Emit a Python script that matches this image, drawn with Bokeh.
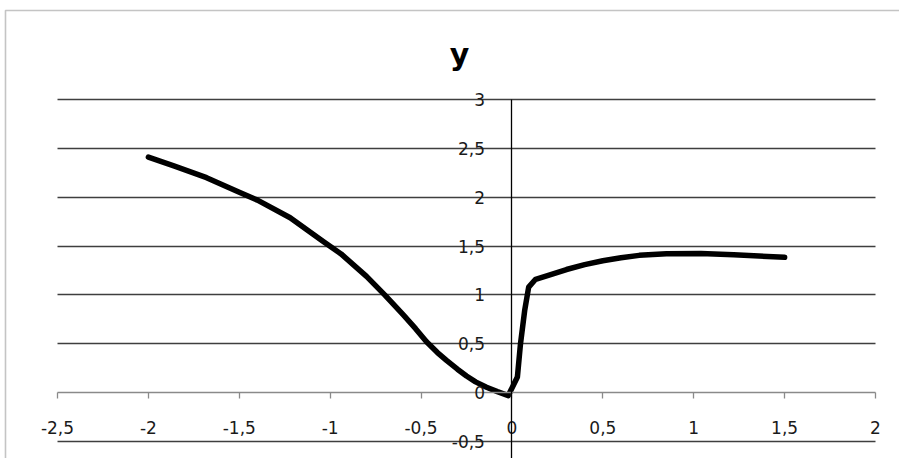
from bokeh.plotting import figure
from bokeh.models import Range1d, LinearAxis, FixedTicker, Grid, BoxAnnotation, Label
from bokeh.embed import file_html
from bokeh.resources import INLINE

# ---- data ----
x_vals = [-2.0, -1.86, -1.68, -1.5, -1.4, -1.22, -1.04, -0.94, -0.8, -0.7,
          -0.6, -0.53, -0.47, -0.41, -0.36, -0.3, -0.25, -0.2, -0.14, -0.08,
          -0.02, 0.03, 0.047, 0.07, 0.092, 0.13, 0.2, 0.3, 0.4, 0.5, 0.6,
          0.7, 0.85, 1.04, 1.22, 1.5]
y_vals = [2.41, 2.32, 2.20, 2.05, 1.97, 1.79, 1.55, 1.42, 1.19, 1.00,
          0.80, 0.655, 0.52, 0.41, 0.33, 0.24, 0.17, 0.11, 0.055, 0.01,
          -0.03, 0.16, 0.5, 0.84, 1.08, 1.16, 1.2, 1.26, 1.31, 1.35, 1.38,
          1.405, 1.422, 1.425, 1.41, 1.385]

x_ticks = [-2.5, -2, -1.5, -1, -0.5, 0, 0.5, 1, 1.5, 2]
x_tick_labels = ["-2,5", "-2", "-1,5", "-1", "-0,5", "0", "0,5", "1", "1,5", "2"]
y_ticks = [-0.5, 0, 0.5, 1, 1.5, 2, 2.5, 3]
y_tick_labels = ["-0,5", "0", "0,5", "1", "1,5", "2", "2,5", "3"]
grid_values = [-0.5, 0.5, 1, 1.5, 2, 2.5, 3]
x_axis_min, x_axis_max = -2.5, 2
y_axis_min, y_axis_max = -0.5, 3
title_text = "y"

FONT = "DejaVu Sans"
W, H = 899, 458
# plot-area placement in pixels (layout only)
PX_LEFT, PX_RIGHT = 57, 875     # x_axis_min .. x_axis_max
PX_TOP, PX_BOTTOM = 99, 441     # y_axis_max .. y_axis_min

sx = (PX_RIGHT - PX_LEFT) / (x_axis_max - x_axis_min)
sy = (PX_BOTTOM - PX_TOP) / (y_axis_max - y_axis_min)
x0 = x_axis_min - PX_LEFT / sx
x1 = x_axis_max + (W - PX_RIGHT) / sx
y1 = y_axis_max + PX_TOP / sy
y0 = y_axis_max - (H - PX_TOP) / sy

p = figure(width=W, height=H, output_backend="svg", toolbar_location=None,
           x_range=Range1d(x0, x1), y_range=Range1d(y0, y1),
           x_axis_type=None, y_axis_type=None,
           min_border_left=0, min_border_right=0, min_border_top=0,
           min_border_bottom=0)
p.outline_line_color = None
p.background_fill_color = "white"
p.border_fill_color = "white"

# horizontal gridlines
grid = Grid(dimension=1, ticker=FixedTicker(ticks=grid_values),
            bounds=(y_axis_min, y_axis_max),
            cross_bounds=(x_axis_min, x_axis_max),
            grid_line_color="#3f3f3f", grid_line_width=1.3)
p.add_layout(grid)

# x axis crossing at y = 0
xaxis = LinearAxis(ticker=FixedTicker(ticks=x_ticks), fixed_location=0,
                   bounds=(x_axis_min, x_axis_max),
                   major_label_overrides=dict(zip(x_ticks, x_tick_labels)))
xaxis.axis_line_color = "#8a8a8a"
xaxis.axis_line_width = 1.3
xaxis.major_tick_line_color = "#8a8a8a"
xaxis.major_tick_line_width = 1.3
xaxis.major_tick_in = 0
xaxis.major_tick_out = 6
xaxis.minor_tick_line_color = None
xaxis.major_label_standoff = 22
xaxis.major_label_text_font = FONT
xaxis.major_label_text_font_size = "17px"
xaxis.major_label_text_color = "#1a1a1a"
p.add_layout(xaxis, "below")

# y axis crossing at x = 0
yaxis = LinearAxis(ticker=FixedTicker(ticks=y_ticks), fixed_location=0,
                   bounds=(y0, y_axis_max),
                   major_label_overrides=dict(zip(y_ticks, y_tick_labels)))
yaxis.axis_line_color = "black"
yaxis.axis_line_width = 1.3
yaxis.major_tick_line_color = None
yaxis.major_tick_in = 0
yaxis.major_tick_out = 0
yaxis.minor_tick_line_color = None
yaxis.major_label_standoff = 27
yaxis.major_label_text_font = FONT
yaxis.major_label_text_font_size = "17px"
yaxis.major_label_text_color = "#1a1a1a"
p.add_layout(yaxis, "left")

# the curve
p.line(x_vals, y_vals, line_width=5.5, line_color="black",
       line_join="round", line_cap="round")

# chart title (centred above the plot area)
title = Label(x=x0 + 459 / sx, y=y1 - 54 / sy, text=title_text,
              text_align="center", text_baseline="alphabetic",
              text_font=FONT, text_font_size="30px", text_font_style="bold",
              text_color="black")
p.add_layout(title)

# chart-area border
border = BoxAnnotation(left=5, right=2000, top=10, bottom=2000,
                       left_units="canvas", right_units="canvas",
                       top_units="canvas", bottom_units="canvas",
                       fill_color=None, fill_alpha=0,
                       line_color="#3a3a3a", line_width=1.6)
p.add_layout(border)

open("out.html", "w").write(file_html(p, INLINE))
